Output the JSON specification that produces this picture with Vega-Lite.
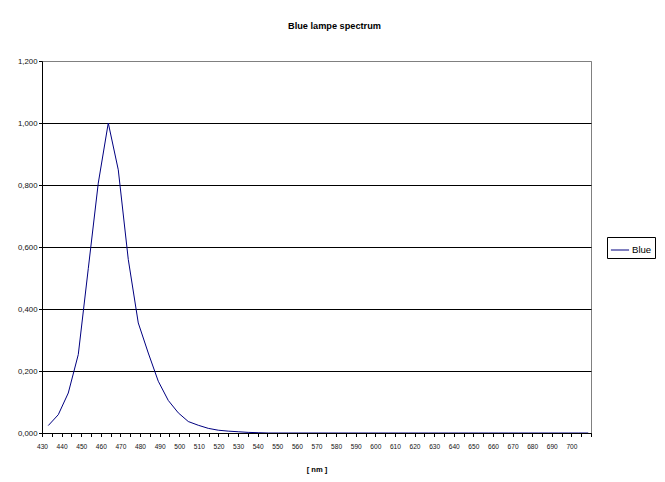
{
  "$schema": "https://vega.github.io/schema/vega-lite/v6.json",
  "width": 549,
  "height": 372,
  "autosize": {"type": "none"},
  "padding": {"left": 42, "top": 61, "right": 74, "bottom": 49},
  "background": "white",
  "config": {
    "font": "Liberation Sans",
    "view": {"stroke": "#808080", "strokeWidth": 1}
  },
  "title": {
    "text": "Blue lampe spectrum",
    "font": "Liberation Sans",
    "fontSize": 9.2,
    "fontWeight": "bold",
    "color": "black",
    "anchor": "middle",
    "frame": "group",
    "dx": 18,
    "offset": 26
  },
  "data": {
    "values": [
      {"nm": 433.2, "v": 0.024, "series": "Blue"},
      {"nm": 438.3, "v": 0.059, "series": "Blue"},
      {"nm": 443.4, "v": 0.129, "series": "Blue"},
      {"nm": 448.5, "v": 0.253, "series": "Blue"},
      {"nm": 453.6, "v": 0.53, "series": "Blue"},
      {"nm": 458.7, "v": 0.806, "series": "Blue"},
      {"nm": 463.8, "v": 1.0, "series": "Blue"},
      {"nm": 468.9, "v": 0.849, "series": "Blue"},
      {"nm": 474.0, "v": 0.56, "series": "Blue"},
      {"nm": 479.1, "v": 0.355, "series": "Blue"},
      {"nm": 484.2, "v": 0.258, "series": "Blue"},
      {"nm": 489.3, "v": 0.167, "series": "Blue"},
      {"nm": 494.4, "v": 0.105, "series": "Blue"},
      {"nm": 499.5, "v": 0.065, "series": "Blue"},
      {"nm": 504.6, "v": 0.037, "series": "Blue"},
      {"nm": 509.7, "v": 0.025, "series": "Blue"},
      {"nm": 514.8, "v": 0.015, "series": "Blue"},
      {"nm": 519.9, "v": 0.009, "series": "Blue"},
      {"nm": 525.0, "v": 0.006, "series": "Blue"},
      {"nm": 530.1, "v": 0.004, "series": "Blue"},
      {"nm": 535.2, "v": 0.002, "series": "Blue"},
      {"nm": 540.3, "v": 0.001, "series": "Blue"},
      {"nm": 545.4, "v": 0, "series": "Blue"},
      {"nm": 550.5, "v": 0, "series": "Blue"},
      {"nm": 555.6, "v": 0, "series": "Blue"},
      {"nm": 560.7, "v": 0, "series": "Blue"},
      {"nm": 565.8, "v": 0, "series": "Blue"},
      {"nm": 570.9, "v": 0, "series": "Blue"},
      {"nm": 576.0, "v": 0, "series": "Blue"},
      {"nm": 581.1, "v": 0, "series": "Blue"},
      {"nm": 586.2, "v": 0, "series": "Blue"},
      {"nm": 591.3, "v": 0, "series": "Blue"},
      {"nm": 596.4, "v": 0, "series": "Blue"},
      {"nm": 601.5, "v": 0, "series": "Blue"},
      {"nm": 606.6, "v": 0, "series": "Blue"},
      {"nm": 611.7, "v": 0, "series": "Blue"},
      {"nm": 616.8, "v": 0, "series": "Blue"},
      {"nm": 621.9, "v": 0, "series": "Blue"},
      {"nm": 627.0, "v": 0, "series": "Blue"},
      {"nm": 632.1, "v": 0, "series": "Blue"},
      {"nm": 637.2, "v": 0, "series": "Blue"},
      {"nm": 642.3, "v": 0, "series": "Blue"},
      {"nm": 647.4, "v": 0, "series": "Blue"},
      {"nm": 652.5, "v": 0, "series": "Blue"},
      {"nm": 657.6, "v": 0, "series": "Blue"},
      {"nm": 662.7, "v": 0, "series": "Blue"},
      {"nm": 667.8, "v": 0, "series": "Blue"},
      {"nm": 672.9, "v": 0, "series": "Blue"},
      {"nm": 678.0, "v": 0, "series": "Blue"},
      {"nm": 683.1, "v": 0, "series": "Blue"},
      {"nm": 688.2, "v": 0, "series": "Blue"},
      {"nm": 693.3, "v": 0, "series": "Blue"},
      {"nm": 698.4, "v": 0, "series": "Blue"},
      {"nm": 703.5, "v": 0, "series": "Blue"},
      {"nm": 708.6, "v": 0, "series": "Blue"}
    ]
  },
  "mark": {"type": "line", "strokeWidth": 1, "clip": true},
  "encoding": {
    "x": {
      "field": "nm",
      "type": "quantitative",
      "scale": {"domain": [430, 710], "nice": false, "zero": false},
      "axis": {
        "title": "[ nm ]",
        "titleFont": "Liberation Sans",
        "titleFontSize": 7.6,
        "titleFontWeight": "bold",
        "titleColor": "black",
        "titlePadding": 16,
        "values": [430,435,440,445,450,455,460,465,470,475,480,485,490,495,500,505,510,515,520,525,530,535,540,545,550,555,560,565,570,575,580,585,590,595,600,605,610,615,620,625,630,635,640,645,650,655,660,665,670,675,680,685,690,695,700,705,710],
        "labelExpr": "(datum.value % 10 == 0 && datum.value < 710) ? datum.value : ''",
        "labelOverlap": false,
        "labelFlush": false,
        "labelFont": "Liberation Sans",
        "labelFontSize": 6.6,
        "labelColor": "#111111",
        "labelPadding": 6.5,
        "tickSize": 3.5,
        "tickColor": "black",
        "domainColor": "black",
        "grid": false
      }
    },
    "y": {
      "field": "v",
      "type": "quantitative",
      "scale": {"domain": [0, 1.2], "nice": false},
      "axis": {
        "title": null,
        "values": [0, 0.2, 0.4, 0.6, 0.8, 1.0, 1.2],
        "labelExpr": "replace(format(datum.value, '.3f'), '.', ',')",
        "labelFont": "Liberation Sans",
        "labelFontSize": 7.8,
        "labelColor": "#111111",
        "labelPadding": 1.5,
        "tickSize": 3.5,
        "tickColor": "black",
        "domainColor": "black",
        "grid": true,
        "gridColor": {"condition": {"test": "datum.value > 1.1", "value": "#808080"}, "value": "black"},
        "gridWidth": 1
      }
    },
    "color": {
      "field": "series",
      "type": "nominal",
      "scale": {"range": ["#000080"]},
      "legend": {
        "title": null,
        "orient": "none",
        "legendX": 565,
        "legendY": 176,
        "strokeColor": "black",
        "padding": 3,
        "symbolType": "stroke",
        "symbolSize": 330,
        "symbolStrokeWidth": 1,
        "labelFont": "Liberation Sans",
        "labelFontSize": 9.6,
        "labelColor": "black",
        "labelOffset": 2
      }
    }
  }
}
